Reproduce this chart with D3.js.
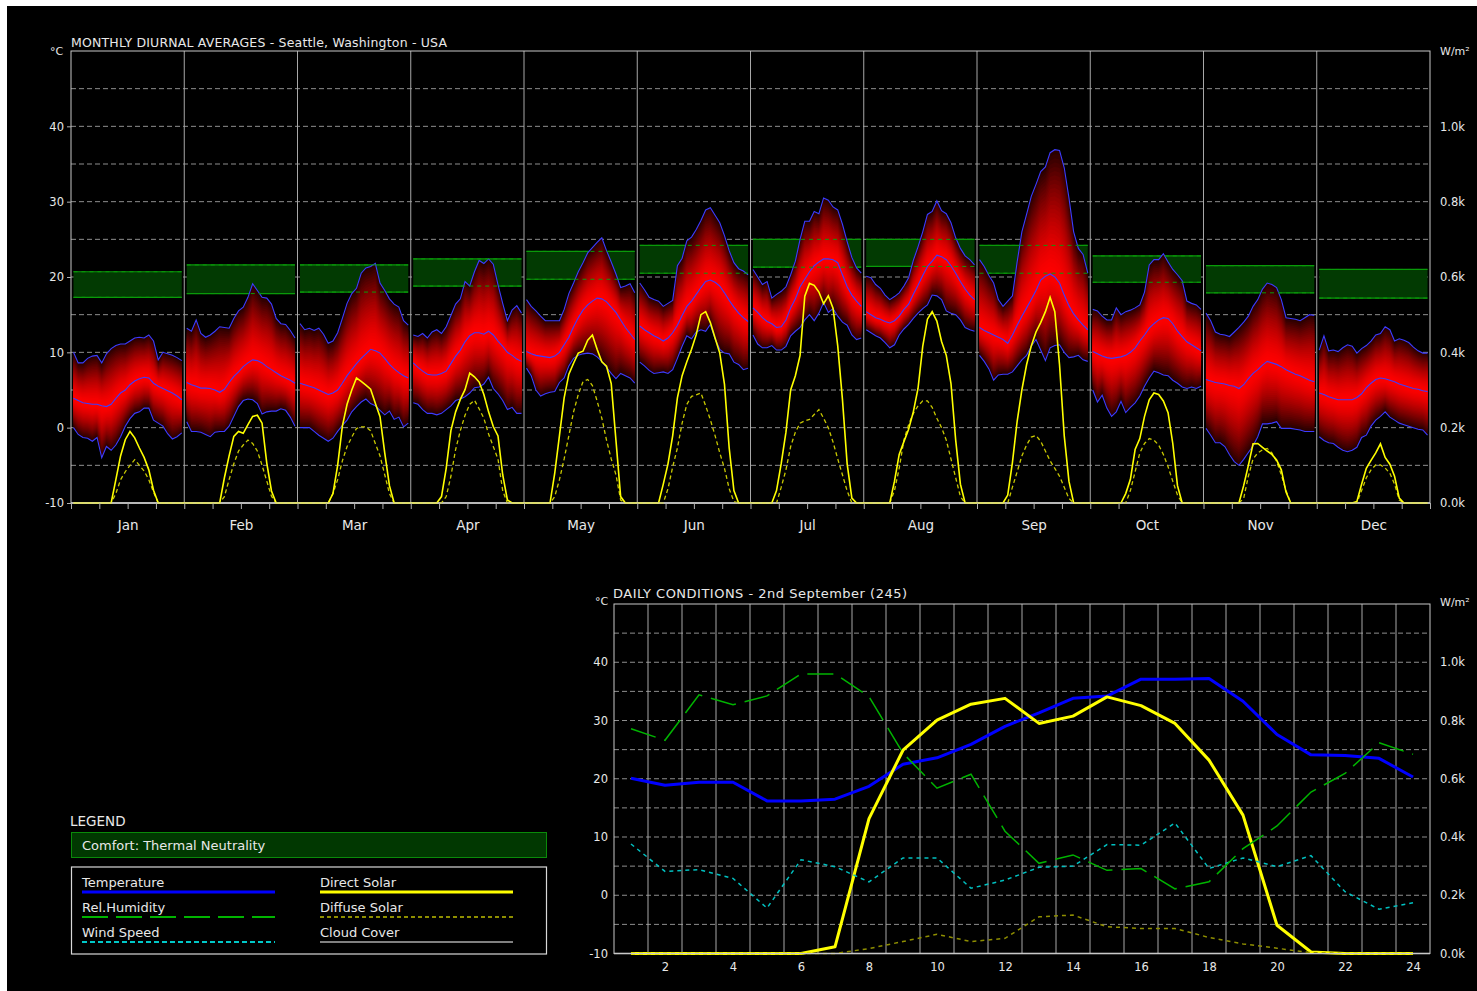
<!DOCTYPE html>
<html><head><meta charset="utf-8">
<script src="https://cdn.jsdelivr.net/npm/d3@7"></script>
<style>body{margin:0;background:#fff;overflow:hidden}svg{display:block}text{font-family:"DejaVu Sans",sans-serif;fill:#e8e8e8}</style>
</head><body><svg id="c" width="1477" height="991"></svg>
<script>
// ---------------- DATA ----------------
const months = ["Jan","Feb","Mar","Apr","May","Jun","Jul","Aug","Sep","Oct","Nov","Dec"];
const tempTicks = [-10,0,10,20,30,40];
const solarTicks = [0,200,400,600,800,1000];
const hourTicks = [2,4,6,8,10,12,14,16,18,20,22,24];
const comfortLow  = [17.3,17.8,18.0,18.8,19.7,20.5,21.3,21.4,20.5,19.3,17.9,17.2];
const comfortHigh = [20.7,21.6,21.6,22.4,23.4,24.2,25.0,25.0,24.2,22.8,21.5,21.0];
const tempMax = [
[10.0,8.6,8.6,9.2,9.5,9.6,8.6,9.8,10.5,10.9,11.1,11.1,11.5,11.9,12.0,11.9,12.3,11.5,9.0,10.0,9.8,9.6,9.3,8.9],
[13.2,12.8,14.3,12.5,12.0,12.3,12.8,13.4,13.3,13.2,14.5,15.5,16.0,17.3,19.1,18.2,17.3,17.2,16.4,14.5,13.8,13.7,12.9,11.9],
[13.8,13.0,13.2,12.9,13.2,12.4,11.2,11.5,12.6,14.5,16.5,17.8,18.5,20.5,21.2,21.4,21.8,19.2,18.2,17.1,16.4,16.0,14.2,13.6],
[12.3,12.1,12.5,11.9,12.7,13.0,12.5,13.4,14.9,16.4,17.1,19.4,18.8,20.7,22.2,21.8,22.4,21.7,19.0,16.5,14.2,15.6,16.2,15.2],
[17.0,16.1,15.5,14.8,14.2,14.2,14.2,14.2,15.7,17.8,19.2,20.7,21.9,23.2,23.9,24.6,25.2,23.5,22.0,20.4,18.6,18.8,19.1,17.9],
[19.2,18.3,17.3,17.0,16.8,16.1,16.5,16.9,21.5,22.5,24.8,25.3,26.3,27.5,28.9,29.2,28.2,27.2,25.5,23.5,21.9,21.1,20.8,20.3],
[21.0,20.0,19.0,19.4,17.2,17.7,18.1,18.7,20.3,22.1,25.0,27.4,27.4,28.7,28.4,30.5,30.2,29.3,28.9,27.0,24.7,22.6,21.2,20.5],
[20.1,19.9,19.0,18.5,17.6,17.0,17.4,17.9,18.8,19.9,22.2,24.0,26.0,28.3,28.7,30.1,28.8,28.4,27.2,25.2,23.8,22.8,22.3,21.6],
[22.3,21.4,20.2,19.2,17.0,16.1,16.8,17.5,22.0,26.0,28.3,30.7,32.3,34.0,34.6,36.5,36.9,36.8,34.5,30.5,26.0,23.8,23.0,20.5],
[15.7,15.5,14.8,14.3,14.3,15.9,15.0,15.4,15.6,15.9,16.3,18.0,21.6,22.3,22.3,23.1,22.0,21.0,20.3,19.5,16.8,16.5,16.3,15.7],
[15.2,14.2,12.7,12.4,12.3,12.1,12.7,13.3,14.0,14.8,16.1,17.0,18.4,19.2,19.0,18.6,17.0,14.6,14.5,14.4,14.2,14.6,15.0,14.9],
[10.3,12.2,10.2,10.3,10.1,10.6,11.0,10.8,9.9,10.5,10.9,11.5,12.3,12.5,13.4,13.0,11.5,11.8,11.6,11.3,10.7,10.2,9.9,9.9]];
const tempAvg = [
[3.9,3.6,3.3,3.2,3.1,3.1,2.9,2.8,3.1,3.9,4.6,5.0,5.7,6.2,6.5,6.7,6.6,5.9,5.5,5.2,4.9,4.6,4.2,3.7],
[6.0,5.7,5.5,5.25,5.25,5.2,5.0,4.7,5.1,6.0,6.8,7.4,8.1,8.6,9.0,8.9,8.6,8.1,7.7,7.3,6.9,6.6,6.3,5.9],
[5.9,5.7,5.5,5.3,5.0,4.7,4.4,4.6,5.0,5.9,6.9,7.7,8.5,9.2,9.8,10.4,10.2,9.9,9.2,8.4,7.8,7.3,6.9,6.6],
[8.6,8.0,7.5,7.1,7.0,7.0,7.2,7.5,8.5,9.5,10.3,11.4,12.2,12.6,12.6,12.4,12.8,12.3,11.5,10.8,10.0,9.6,9.1,8.8],
[10.1,9.8,9.6,9.5,9.4,9.3,9.5,10.0,11.0,12.0,13.4,14.6,15.6,16.3,16.8,17.2,17.1,16.7,16.0,15.3,14.3,13.3,12.5,11.7],
[13.5,13.0,12.6,12.2,11.9,11.5,11.9,12.6,13.6,14.9,16.1,16.8,17.7,18.6,19.4,19.6,19.3,18.8,17.9,16.9,16.0,15.2,14.6,14.1],
[15.9,15.3,14.6,14.1,13.8,13.3,13.4,14.3,15.9,17.1,18.7,19.7,20.7,21.5,22.0,22.4,22.4,22.3,21.9,20.3,18.7,17.6,16.8,16.1],
[15.4,15.0,14.6,14.4,14.1,13.9,14.2,14.8,15.7,16.4,17.7,18.9,20.2,21.4,22.1,22.9,22.7,22.3,21.5,20.5,19.4,18.4,17.6,17.0],
[13.3,12.9,12.6,12.3,12.0,11.7,11.2,12.3,13.6,14.8,15.9,17.0,18.2,19.6,20.1,20.4,20.0,19.2,17.6,16.2,15.1,14.3,13.6,13.0],
[10.1,9.8,9.5,9.3,9.2,9.3,9.4,9.6,10.0,10.6,11.5,12.3,13.2,13.8,14.3,14.6,14.5,13.8,12.8,12.1,11.4,11.0,10.6,10.2],
[6.4,6.2,6.0,5.9,5.8,5.6,5.5,5.2,5.7,6.5,7.2,7.7,8.3,8.8,8.6,8.4,8.1,7.7,7.4,7.1,6.9,6.6,6.3,6.1],
[4.6,4.4,4.1,3.9,3.7,3.7,3.7,3.7,4.0,4.5,5.3,5.9,6.4,6.6,6.5,6.3,6.1,5.8,5.6,5.4,5.2,5.1,4.9,4.8]];
const tempMin = [
[0.0,-0.9,-1.3,-1.4,-1.8,-1.3,-4.0,-2.5,-3.0,-2.3,-1.2,0.2,1.2,1.9,2.1,2.6,2.6,1.0,0.6,0.2,-0.8,-1.5,-1.2,-0.7],
[0.8,-0.5,-0.5,-0.6,-0.9,-1.2,-0.6,-0.5,-0.5,0.2,1.5,2.8,3.6,3.8,3.7,3.2,1.8,2.1,2.2,2.2,2.5,2.3,1.4,0.2],
[0.0,0.0,0.0,-0.5,-1.0,-1.4,-1.8,-1.4,-0.5,0.3,1.0,2.1,2.8,3.4,3.8,3.2,2.9,2.3,1.7,2.2,1.1,1.4,0.1,0.6],
[3.3,3.1,2.4,1.9,1.9,1.7,1.9,2.4,2.9,3.6,3.8,4.1,4.6,5.3,5.4,5.8,6.7,5.2,4.5,3.6,2.4,2.7,1.9,1.9],
[7.9,6.9,5.0,4.2,4.5,4.7,4.8,6.0,6.6,8.2,9.2,9.6,9.8,9.9,9.8,9.4,8.8,8.0,7.2,6.5,7.2,6.9,6.6,5.9],
[8.7,8.2,7.6,7.2,7.3,7.4,7.2,7.7,9.2,10.8,12.2,11.8,12.7,13.0,12.8,13.7,11.8,10.4,9.9,9.8,8.7,8.4,7.7,7.9],
[12.3,11.1,10.6,10.6,10.9,10.3,10.3,10.8,12.2,12.8,13.3,14.3,15.0,14.2,15.2,16.6,15.3,15.8,14.8,14.0,13.6,12.3,11.7,11.9],
[13.0,12.6,12.2,11.9,11.3,10.6,11.0,12.3,13.1,13.7,14.5,15.2,15.8,16.3,17.6,17.5,17.0,15.5,15.2,15.0,14.3,13.3,13.0,12.8],
[9.6,8.8,7.8,6.3,7.0,7.1,7.1,7.4,8.2,9.0,9.6,10.8,11.7,10.3,8.9,10.6,10.9,11.0,10.0,9.3,9.4,9.6,9.0,8.8],
[5.0,3.4,4.3,2.6,1.5,2.1,3.5,2.0,2.7,3.3,4.2,5.5,6.6,7.5,7.3,7.0,6.9,6.3,5.9,5.4,5.2,5.4,5.2,5.5],
[-0.1,-1.0,-2.0,-2.0,-2.5,-3.6,-4.5,-5.0,-4.2,-3.3,-2.4,-1.2,0.5,0.5,0.6,0.8,-0.1,-0.1,-0.1,-0.2,-0.3,-0.5,-0.5,-0.5],
[-1.2,-1.7,-2.0,-2.1,-2.6,-3.0,-3.2,-3.0,-2.6,-1.3,-1.0,0.2,1.0,1.5,2.1,1.4,1.0,0.6,0.4,0.2,0.0,-0.2,-0.3,-1.0]];
const directSolar = [
[0,0,0,0,0,0,0,0,0,62,125,168,190,173,146,121,88,34,0,0,0,0,0,0],
[0,0,0,0,0,0,0,0,67,125,177,190,185,208,230,233,212,106,32,0,0,0,0,0],
[0,0,0,0,0,0,0,25,100,204,262,300,332,323,313,302,265,229,133,46,0,0,0,0],
[0,0,0,0,0,0,17,92,192,242,275,301,345,335,321,288,242,203,178,75,8,0,0,0],
[0,0,0,0,0,0,79,179,279,342,371,398,403,432,446,408,375,363,317,167,17,0,0,0],
[0,0,0,0,0,50,104,179,279,338,375,408,447,500,508,479,438,398,315,146,33,0,0,0],
[0,0,0,0,0,33,105,188,300,338,392,549,583,578,560,529,550,517,417,275,104,13,0,0],
[0,0,0,0,0,0,58,129,163,196,242,304,416,488,508,483,429,392,317,167,50,0,0,0],
[0,0,0,0,0,0,21,108,217,300,367,417,454,479,508,546,508,367,179,58,0,0,0,0],
[0,0,0,0,0,0,0,25,63,142,171,230,274,292,288,271,240,158,46,0,0,0,0,0],
[0,0,0,0,0,0,0,0,46,100,157,158,148,138,129,114,88,29,0,0,0,0,0,0],
[0,0,0,0,0,0,0,0,4,50,92,113,133,157,121,103,71,13,0,0,0,0,0,0]];
const diffuseSolar = [
[0,0,0,0,0,0,0,0,0,25,62,83,100,115,100,85,62,29,0,0,0,0,0,0],
[0,0,0,0,0,0,0,0,17,62,104,138,154,167,158,138,100,58,18,0,0,0,0,0],
[0,0,0,0,0,0,0,25,62,112,150,175,198,202,202,192,158,125,75,25,0,0,0,0],
[0,0,0,0,0,0,0,17,71,142,192,233,262,273,250,225,183,150,117,33,0,0,0,0],
[0,0,0,0,0,0,17,62,117,179,242,288,322,328,312,271,225,167,117,75,8,0,0,0],
[0,0,0,0,0,0,38,96,146,212,262,283,287,292,258,221,179,133,92,38,4,0,0,0],
[0,0,0,0,0,0,42,88,150,188,212,218,222,235,248,225,200,162,117,75,32,0,0,0],
[0,0,0,0,0,0,33,92,167,208,238,258,271,271,254,225,200,167,117,67,17,0,0,0],
[0,0,0,0,0,0,0,42,83,125,154,175,179,164,138,112,92,71,42,12,0,0,0,0],
[0,0,0,0,0,0,0,0,33,83,133,158,171,167,154,129,96,58,21,0,0,0,0,0],
[0,0,0,0,0,0,0,0,12,71,117,133,141,145,133,110,75,33,0,0,0,0,0,0],
[0,0,0,0,0,0,0,0,0,33,67,88,101,101,93,79,50,8,0,0,0,0,0,0]];
// Daily conditions - 2nd September
const hours = [1,2,3,4,5,6,7,8,9,10,11,12,13,14,15,16,17,18,19,20,21,22,23,24];
const dayTemp = [20.1,18.9,19.4,19.4,16.2,16.2,16.5,18.7,22.5,23.6,25.9,29.0,31.3,33.8,34.2,37.1,37.1,37.2,33.3,27.6,24.1,24.0,23.5,20.3];
const dayDirect = [0,0,0,0,0,0,23,463,698,801,856,876,790,815,881,851,790,664,475,97,5,0,0,0];
const dayDiffuse = [0,0,0,0,0,0,0,17,41,66,41,52,126,132,92,86,86,55,33,18,3,0,0,0];
const dayRelHumidity = [64.3,61.0,74.0,71.2,73.7,80.0,80.0,73.5,57.3,47.3,51.3,35.0,25.8,28.2,23.8,24.3,18.5,20.5,30.0,36.5,46.2,51.5,60.3,57.0];
const dayWindSpeed = [8.8,4.1,4.4,2.9,-2.2,6.1,4.9,2.3,6.4,6.4,1.2,2.6,4.8,5.0,8.7,8.6,12.4,4.6,6.4,4.9,6.8,0.6,-2.4,-1.3];
const legendItems = ["Temperature","Rel.Humidity","Wind Speed","Direct Solar","Diffuse Solar","Cloud Cover"];

// ---------------- DRAW ----------------
const svg = d3.select("#c");
svg.append("rect").attr("x",7).attr("y",6).attr("width",1470).attr("height",985).attr("fill","#000");

const kFmt = v => (v/1000).toFixed(1)+"k";
const tFmt = v => String(v);
const GRID = "#8e8e8e";

// ===== TOP CHART =====
const xT = d3.scaleLinear().domain([0,12]).range([71,1430]);
const yT = d3.scaleLinear().domain([-10,50]).range([503,51]);
const sT = d3.scaleLinear().domain([0,1200]).range([503,51]);
const hPos = (m,i) => m + 0.022 + i*0.04157;
const topG = svg.append("g");

topG.selectAll(".hg").data(d3.range(-5,50,5)).join("line")
  .attr("x1",71).attr("x2",1430).attr("y1",d=>yT(d)).attr("y2",d=>yT(d))
  .attr("stroke",GRID).attr("stroke-dasharray","5,3");
topG.selectAll(".vg").data(d3.range(1,12)).join("line")
  .attr("x1",d=>xT(d)).attr("x2",d=>xT(d)).attr("y1",51).attr("y2",503)
  .attr("stroke","#a8a8a8");

months.forEach((m,k)=>{
  const x0 = xT(hPos(k,0)), x1 = xT(hPos(k,23));
  topG.append("rect").attr("x",x0).attr("y",yT(comfortHigh[k])).attr("width",x1-x0)
    .attr("height",yT(comfortLow[k])-yT(comfortHigh[k])).attr("fill","#023a02");
  [comfortHigh[k],comfortLow[k]].forEach(v=>topG.append("line").attr("x1",x0).attr("x2",x1)
    .attr("y1",yT(v)).attr("y2",yT(v)).attr("stroke","#0a9a0a").attr("stroke-width",1.2));
});

const NL = 30;
const bandColor = f => d3.rgb(Math.round(255*(1-0.84*Math.pow(f,1.5))),0,0).toString();
months.forEach((m,k)=>{
  const pts = d3.range(24).map(i=>({x:xT(hPos(k,i)),mx:tempMax[k][i],av:tempAvg[k][i],mn:tempMin[k][i]}));
  for(let j=NL;j>=1;j--){
    const f=j/NL;
    const area = d3.area().x(d=>d.x).y0(d=>yT(d.av-f*(d.av-d.mn))).y1(d=>yT(d.av+f*(d.mx-d.av)));
    topG.append("path").attr("d",area(pts)).attr("fill",bandColor(f));
  }
  ["mx","av","mn"].forEach(key=>{
    topG.append("path").attr("d",d3.line().x(d=>d.x).y(d=>yT(d[key]))(pts))
      .attr("fill","none").attr("stroke","#3c3cff").attr("stroke-width",1.1);
  });
  const x0 = xT(hPos(k,0)), x1 = xT(hPos(k,23));
  [comfortHigh[k],comfortLow[k]].forEach(v=>topG.append("line").attr("x1",x0).attr("x2",x1)
    .attr("y1",yT(v)).attr("y2",yT(v)).attr("stroke","#0a9a0a").attr("stroke-dasharray","4,4"));
});

const solPts = (arr)=>{const p=[];months.forEach((m,k)=>d3.range(24).forEach(i=>p.push([xT(hPos(k,i)),sT(arr[k][i])])));return p;};
topG.append("line").attr("x1",71).attr("x2",1430).attr("y1",503).attr("y2",503).attr("stroke","#e0e0e0").attr("stroke-width",1.5);
topG.append("path").attr("d",d3.line()(solPts(diffuseSolar))).attr("fill","none")
  .attr("stroke","#c8c800").attr("stroke-width",1.3).attr("stroke-dasharray","4,3");
topG.append("path").attr("d",d3.line()(solPts(directSolar))).attr("fill","none")
  .attr("stroke","#ffff00").attr("stroke-width",1.6);

topG.append("rect").attr("x",71).attr("y",51).attr("width",1359).attr("height",452)
  .attr("fill","none").attr("stroke","#c8c8c8");

const axL = topG.append("g").attr("transform","translate(71,0)")
  .call(d3.axisLeft(yT).tickValues(tempTicks).tickFormat(tFmt).tickSize(4).tickPadding(3));
const axR = topG.append("g").attr("transform","translate(1430,0)")
  .call(d3.axisRight(sT).tickValues(solarTicks).tickFormat(kFmt).tickSize(0).tickPadding(10));
const axB = topG.append("g").attr("transform","translate(0,503)")
  .call(d3.axisBottom(xT).tickValues(d3.range(0,12.01,0.25)).tickFormat("").tickSize(6));
const axM = topG.append("g").attr("transform","translate(0,503)")
  .call(d3.axisBottom(xT).tickValues(d3.range(12).map(d=>d+0.5)).tickFormat((d,i)=>months[i]).tickSize(0).tickPadding(17));
[axL,axR,axB,axM].forEach(a=>{a.select(".domain").remove();a.selectAll("line").attr("stroke","#b0b0b0");
  a.selectAll("text").attr("fill","#e8e8e8").style("font-family","DejaVu Sans").style("font-size","11.5px");});
axM.selectAll("text").style("font-size","13.5px");
topG.append("text").attr("x",71).attr("y",47).attr("textLength",376).attr("lengthAdjust","spacing")
  .style("font-size","12.5px").text("MONTHLY DIURNAL AVERAGES - Seattle, Washington - USA");
topG.append("text").attr("x",50).attr("y",55).style("font-size","11px").text("°C");
topG.append("text").attr("x",1440).attr("y",55).style("font-size","11px").text("W/m²");

// ===== BOTTOM CHART =====
const xB = d3.scaleLinear().domain([0.5,24.5]).range([614,1430]);
const yB = d3.scaleLinear().domain([-10,50]).range([953.5,604]);
const sB = d3.scaleLinear().domain([0,1200]).range([953.5,604]);
const rhB = d3.scaleLinear().domain([0,100]).range([953.5,604]);
const botG = svg.append("g");
botG.selectAll(".hg").data(d3.range(-5,50,5)).join("line")
  .attr("x1",614).attr("x2",1430).attr("y1",d=>yB(d)).attr("y2",d=>yB(d))
  .attr("stroke",GRID).attr("stroke-dasharray","5,3");
botG.selectAll(".vg").data(d3.range(1.5,24,1)).join("line")
  .attr("x1",d=>xB(d)).attr("x2",d=>xB(d)).attr("y1",604).attr("y2",953.5)
  .attr("stroke","#a8a8a8");
botG.append("line").attr("x1",614).attr("x2",1430).attr("y1",953.5).attr("y2",953.5).attr("stroke","#e0e0e0").attr("stroke-width",1.5);
const lineB = (arr,sc)=>d3.line().x((d,i)=>xB(hours[i])).y(d=>sc(d))(arr);
botG.append("path").attr("d",lineB(dayTemp,yB)).attr("fill","none").attr("stroke","#0000ff").attr("stroke-width",3).attr("stroke-linejoin","round");
botG.append("path").attr("d",lineB(dayDirect,sB)).attr("fill","none").attr("stroke","#ffff00").attr("stroke-width",3).attr("stroke-linejoin","round");
botG.append("path").attr("d",lineB(dayDiffuse,sB)).attr("fill","none").attr("stroke","#8e8e00").attr("stroke-width",1.5).attr("stroke-dasharray","4,4");
botG.append("path").attr("d",lineB(dayWindSpeed,yB)).attr("fill","none").attr("stroke","#00c0c0").attr("stroke-width",1.5).attr("stroke-dasharray","4,4");
botG.append("path").attr("d",lineB(dayRelHumidity,rhB)).attr("fill","none").attr("stroke","#00b400").attr("stroke-width",1.5).attr("stroke-dasharray","26,9");
botG.append("rect").attr("x",614).attr("y",604).attr("width",816).attr("height",349.5)
  .attr("fill","none").attr("stroke","#c8c8c8");
const bL = botG.append("g").attr("transform","translate(614,0)")
  .call(d3.axisLeft(yB).tickValues(tempTicks).tickFormat(tFmt).tickSize(0).tickPadding(6));
const bR = botG.append("g").attr("transform","translate(1430,0)")
  .call(d3.axisRight(sB).tickValues(solarTicks).tickFormat(kFmt).tickSize(0).tickPadding(10));
const bB = botG.append("g").attr("transform","translate(0,953.5)")
  .call(d3.axisBottom(xB).tickValues(hourTicks).tickSize(0).tickPadding(9));
[bL,bR,bB].forEach(a=>{a.select(".domain").remove();
  a.selectAll("text").attr("fill","#e8e8e8").style("font-family","DejaVu Sans").style("font-size","11.5px");});
botG.append("text").attr("x",613).attr("y",598).attr("textLength",294).attr("lengthAdjust","spacing")
  .style("font-size","13px").text("DAILY CONDITIONS - 2nd September (245)");
botG.append("text").attr("x",595).attr("y",605).style("font-size","11px").text("°C");
botG.append("text").attr("x",1440).attr("y",606).style("font-size","11px").text("W/m²");

// ===== LEGEND =====
const lg = svg.append("g");
lg.append("text").attr("x",70).attr("y",826).style("font-size","13.5px").text("LEGEND");
lg.append("rect").attr("x",71.5).attr("y",832.5).attr("width",475).attr("height",25)
  .attr("fill","#013801").attr("stroke","#0a8a0a");
lg.append("text").attr("x",82).attr("y",850).style("font-size","13px").text("Comfort: Thermal Neutrality");
lg.append("rect").attr("x",71.5).attr("y",867).attr("width",475).attr("height",87)
  .attr("fill","none").attr("stroke","#d8d8d8").attr("stroke-width",1.2);
const items = [
  {t:legendItems[0],x:82,y:887,c:"#0000ff",w:3,d:null},
  {t:legendItems[1],x:82,y:912,c:"#00b400",w:2,d:"26,8"},
  {t:legendItems[2],x:82,y:937,c:"#00c8c8",w:2,d:"5,3"},
  {t:legendItems[3],x:320,y:887,c:"#ffff00",w:3,d:null},
  {t:legendItems[4],x:320,y:912,c:"#8e8e00",w:2,d:"4,3"},
  {t:legendItems[5],x:320,y:937,c:"#808080",w:2,d:null}];
items.forEach(it=>{
  lg.append("text").attr("x",it.x).attr("y",it.y).style("font-size","13px").text(it.t);
  const ln = lg.append("line").attr("x1",it.x).attr("x2",it.x+193).attr("y1",it.y+5).attr("y2",it.y+5)
    .attr("stroke",it.c).attr("stroke-width",it.w);
  if(it.d) ln.attr("stroke-dasharray",it.d);
});
</script></body></html>
